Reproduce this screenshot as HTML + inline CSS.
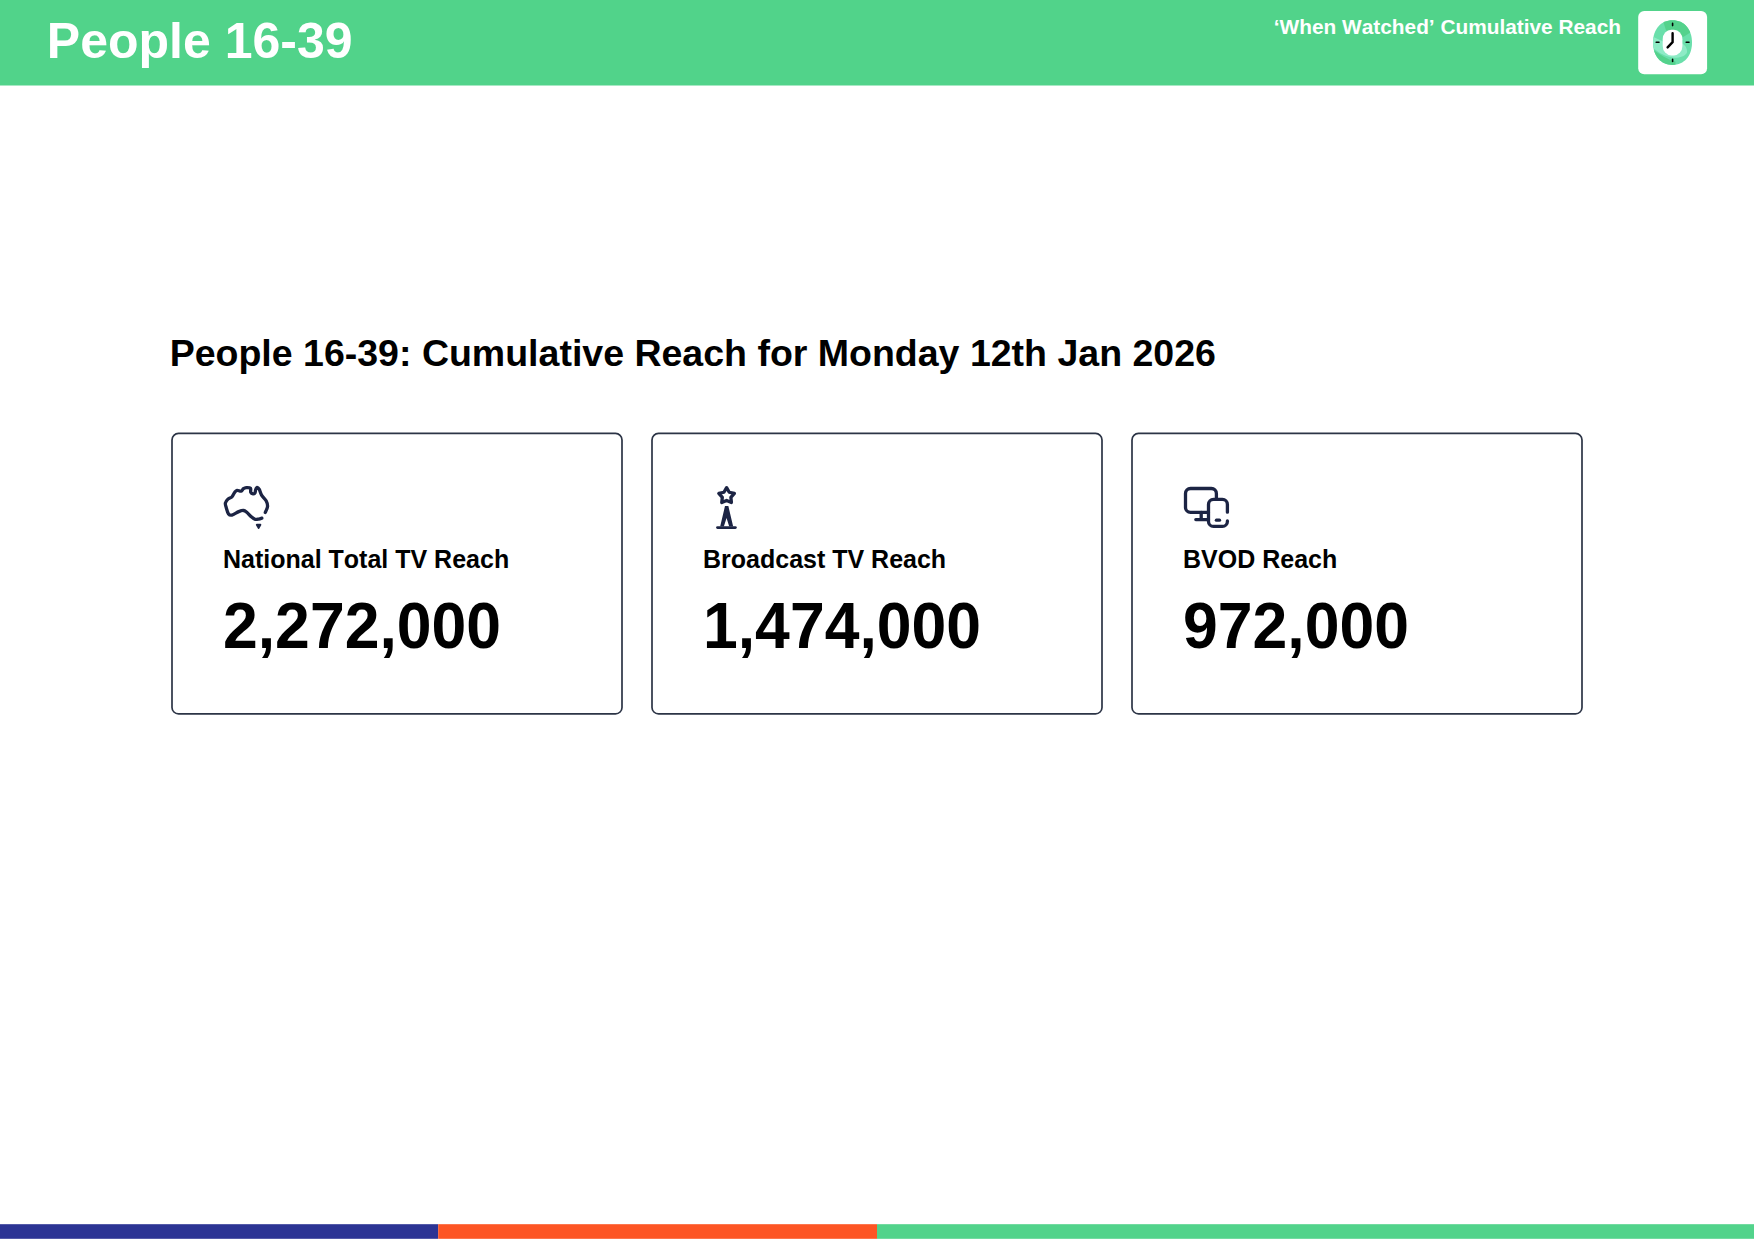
<!DOCTYPE html>
<html lang="en">
<head>
<meta charset="utf-8">
<title>People 16-39</title>
<style>
html,body{margin:0;padding:0;background:#fff;}
body{width:1754px;height:1241px;position:relative;overflow:hidden;font-family:"Liberation Sans",Arial,sans-serif;font-weight:bold;color:#000;font-kerning:none;}
svg.shapes{position:absolute;left:0;top:0;}
.t{position:absolute;white-space:nowrap;margin:0;}
.title{left:46.8px;top:12px;font-size:50px;line-height:58px;color:#fff;}
.sub{right:133px;top:15px;font-size:20.83px;line-height:24px;color:#fff;}
h2.t{left:169.7px;top:332px;font-size:37.5px;line-height:42px;}
.lbl{top:545px;font-size:25px;line-height:28px;}
.num{top:589px;font-size:62.5px;line-height:74px;transform:scaleY(1.03);transform-origin:0 58.7px;}
</style>
</head>
<body>
<svg class="shapes" width="1754" height="1241" viewBox="0 0 1754 1241">
<!-- header -->
<rect x="0" y="0" width="1754" height="85.5" fill="#51d38a"/>
<!-- logo -->
<rect x="1638.2" y="11" width="68.9" height="63.2" rx="6" fill="#fff"/>
<g id="clock">
<clipPath id="ringclip"><path d="M1672.50 20.20C1684.20 20.20 1692.00 29.16 1692.00 42.60C1692.00 56.04 1684.20 65.00 1672.50 65.00C1660.80 65.00 1653.00 56.04 1653.00 42.60C1653.00 29.16 1660.80 20.20 1672.50 20.20Z"/></clipPath>
<path d="M1672.50 20.20C1684.20 20.20 1692.00 29.16 1692.00 42.60C1692.00 56.04 1684.20 65.00 1672.50 65.00C1660.80 65.00 1653.00 56.04 1653.00 42.60C1653.00 29.16 1660.80 20.20 1672.50 20.20Z" fill="#6adfab"/>
<g clip-path="url(#ringclip)">
<path d="M1662.2 18.5L1666.0 30.2L1673.1 33.6L1683.2 37.0L1691.2 31.9L1694.9 18.5Z" fill="#54d28c"/>
<path d="M1652.2 48.5C1658.5 53.7 1666.9 59.2 1675.5 61.5L1675.5 67.1L1650.5 67.1Z" fill="#54d28c"/>
<path d="M1652.2 36.3L1663.1 41.4L1673.1 45.3L1682.4 43.5C1685.7 45.3 1687.8 49.5 1686.8 52.9C1684.9 56.2 1679.4 57.9 1674.0 57.7C1666.0 57.1 1658.5 52.9 1652.2 47.4Z" fill="#8eebc6"/>
</g>
<rect x="1662.7" y="29.8" width="19.7" height="25.6" rx="8.5" ry="9.5" fill="#fff"/>
<g stroke="#000" stroke-linecap="round" stroke-linejoin="round" fill="none">
<path d="M1672.6 33.2V42.2L1667.6 47.4" stroke-width="2.4"/>
<path d="M1672.6 23.4v2.2M1672.6 59.3v2.2M1656.2 42.3h2.8M1686.2 42.3h2.8" stroke-width="1.6"/>
</g>
</g>
<!-- cards -->
<g fill="none" stroke="#2c3446" stroke-width="1.7">
<rect x="172" y="433.4" width="450" height="280.5" rx="6.5"/>
<rect x="652" y="433.4" width="450" height="280.5" rx="6.5"/>
<rect x="1132" y="433.4" width="450" height="280.5" rx="6.5"/>
</g>
<!-- icons -->
<g fill="none" stroke="#1c2444" stroke-width="3.3" stroke-linecap="round" stroke-linejoin="round">
<path d="M265.28 512.47C265.66 511.48 267.42 508.44 267.56 506.49C267.70 504.54 267.13 502.69 266.13 500.79C265.14 498.89 262.71 496.99 261.57 495.09C260.43 493.19 260.05 490.67 259.29 489.38C258.53 488.10 257.63 487.29 257.01 487.39C256.39 487.48 255.92 489.05 255.59 489.95C255.25 490.86 255.44 492.14 255.02 492.81C254.59 493.47 253.73 494.04 253.02 493.95C252.31 493.85 251.17 493.19 250.74 492.23C250.31 491.28 251.22 489.00 250.46 488.24C249.70 487.48 247.35 487.60 246.18 487.67C245.01 487.75 244.30 488.11 243.44 488.70C242.59 489.29 242.11 490.94 241.05 491.21C239.98 491.47 238.10 490.13 237.06 490.30C236.01 490.47 235.63 491.15 234.78 492.23C233.92 493.32 233.07 495.66 231.93 496.80C230.79 497.94 229.03 498.03 227.94 499.08C226.84 500.12 225.66 501.64 225.37 503.07C225.09 504.49 225.70 505.82 226.23 507.63C226.75 509.43 227.56 512.66 228.51 513.90C229.46 515.13 230.22 515.42 231.93 515.04C233.64 514.66 236.87 512.38 238.77 511.62C240.67 510.86 242.00 510.38 243.33 510.48C244.66 510.57 245.42 511.14 246.75 512.19C248.08 513.23 249.89 515.56 251.31 516.75C252.74 517.94 254.07 518.94 255.30 519.32C256.54 519.70 257.63 519.22 258.72 519.03C259.82 518.84 261.34 518.32 261.86 518.18"/>
<path d="M256.8 524.8H260.4L258.55 527.9Z" fill="#1c2444" stroke-width="1.9"/>
<!-- tower -->
<path d="M726.60 487.70L729.25 492.26L734.40 493.37L730.88 497.29L731.42 502.53L726.60 500.40L721.78 502.53L722.32 497.29L718.80 493.37L723.95 492.26Z" stroke-width="3.3"/>
<path d="M724.98 506.1H728.36L733.16 526.6H720.18ZM726.56 517.95L723.85 526.6H729.21Z" fill="#1c2444" fill-rule="evenodd" stroke="none"/>
<path d="M717.5 527.55H735.4" stroke-width="2.8"/>
<!-- devices -->
<path d="M1216.4 498.5V493.5a5 5 0 0 0 -5 -5H1190.5a5 5 0 0 0 -5 5V507.4a5 5 0 0 0 5 5H1208.5"/>
<path d="M1201.2 512.4V519.6M1195.8 519.6H1208.5"/>
<path d="M1227.4 512.2V504.45a5 5 0 0 0 -5 -5H1213.5a5 5 0 0 0 -5 5V521.4a5 5 0 0 0 5 5H1222.4a5 5 0 0 0 5 -5V520.9"/>
<path d="M1216.4 520.2H1219.5"/>
</g>
<!-- footer bars -->
<rect x="0" y="1224.2" width="438.2" height="14.6" fill="#2c3494"/>
<rect x="438.2" y="1224.2" width="438.8" height="14.6" fill="#fd5524"/>
<rect x="877" y="1224.2" width="877" height="14.6" fill="#52d38b"/>
</svg>

<div class="t title">People 16-39</div>
<div class="t sub">‘When Watched’ Cumulative Reach</div>
<h2 class="t">People 16-39: Cumulative Reach for Monday 12th Jan 2026</h2>

<div class="t lbl" style="left:223px;">National Total TV Reach</div>
<div class="t num" style="left:223px;">2,272,000</div>
<div class="t lbl" style="left:703px;">Broadcast TV Reach</div>
<div class="t num" style="left:703px;">1,474,000</div>
<div class="t lbl" style="left:1183px;">BVOD Reach</div>
<div class="t num" style="left:1183px;">972,000</div>
</body>
</html>
